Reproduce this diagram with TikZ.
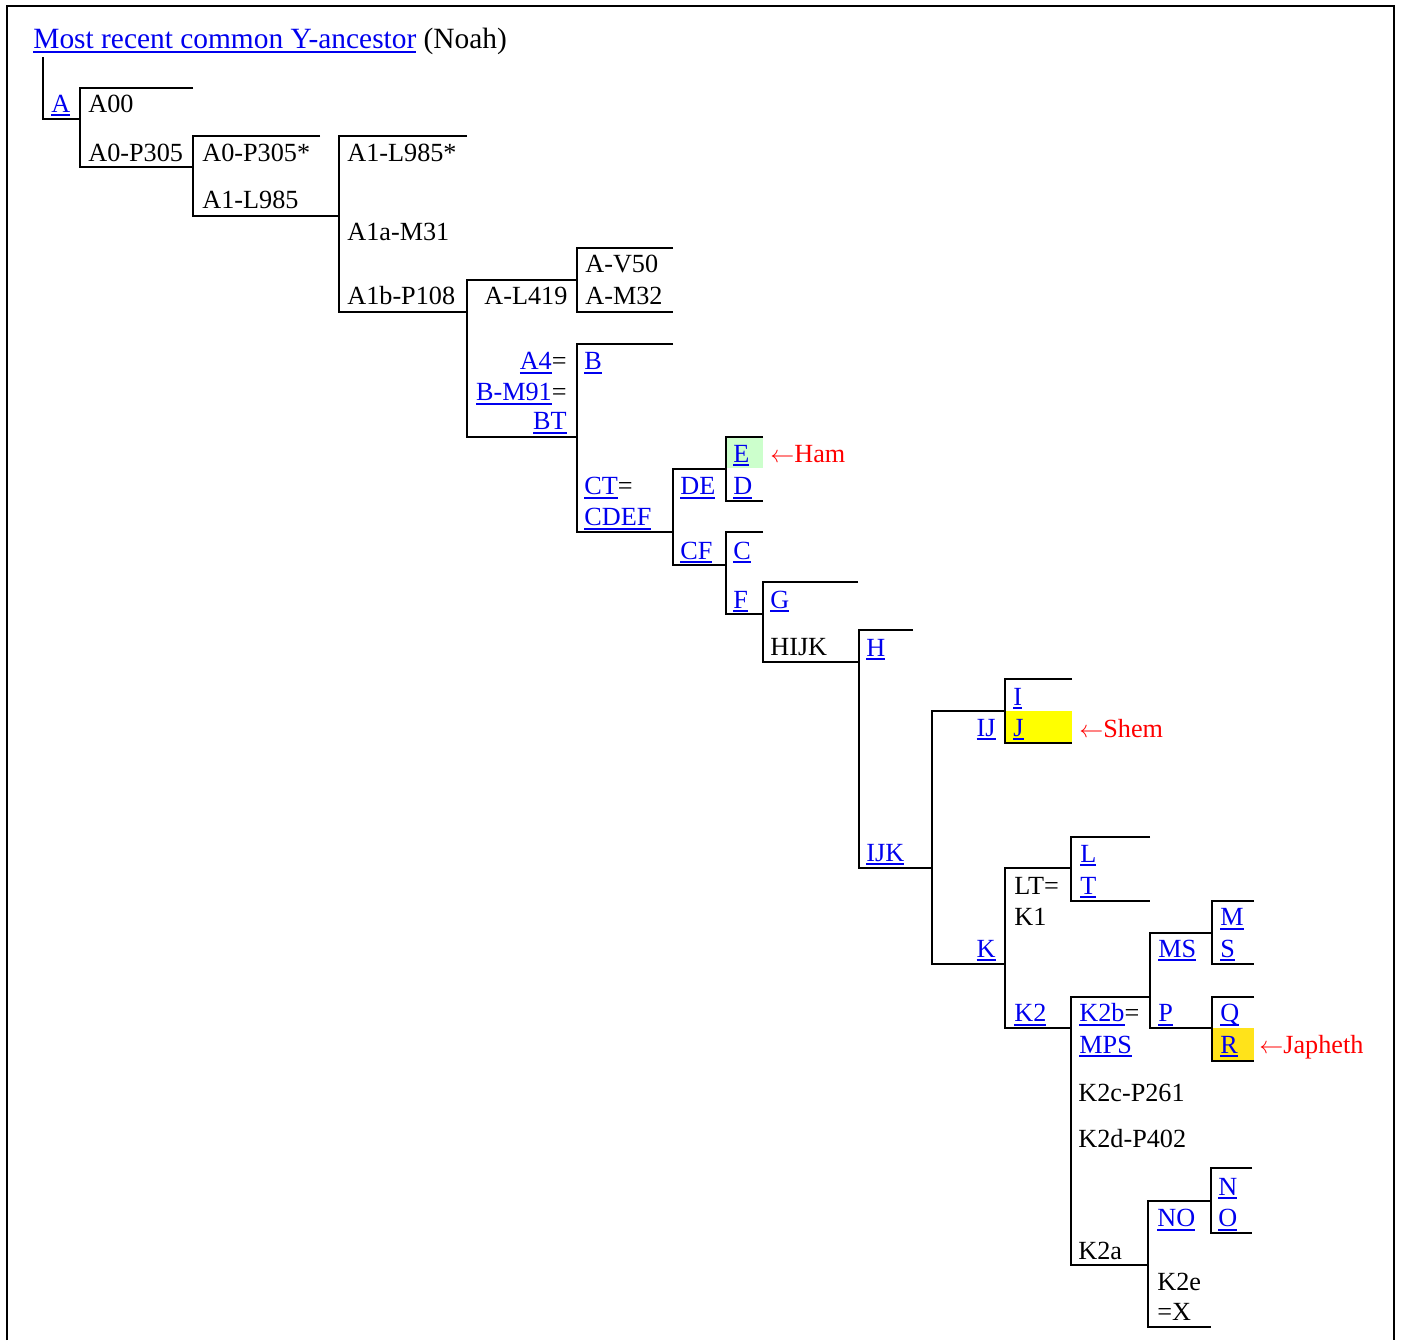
\documentclass[tikz,border=0pt]{standalone}
\usepackage{fontspec}
\setmainfont{Liberation Serif}
\usepackage{tikz}
\definecolor{linkblue}{HTML}{0000EE}
\definecolor{hamgreen}{HTML}{CCFFCC}
\definecolor{shemyellow}{HTML}{FFFF00}
\definecolor{japhgold}{HTML}{FFE31A}
\newcommand\treefont{\fontsize{13.1pt}{15.5pt}\selectfont}
\newcommand\titlefont{\fontsize{14.7pt}{18pt}\selectfont}
\newcommand\ylink[1]{{\color{linkblue}\setbox0=\hbox{#1}\rlap{\rule[-2pt]{\wd0}{1pt}}\box0}}
\def\clade(#1)(#2:#3)(#4:#5)% Syntax: (x) (top y:bottom y) (top end:bottom end)
    { \draw[clade] (#4,#2) -- (#1,#2) -- (#1,#3) -- (#5,#3); }
\tikzset{
  clade/.style={line width=1pt},
  lbl/.style={anchor=base west, inner sep=0pt, font=\treefont},
  lblr/.style={anchor=base east, inner sep=0pt, font=\treefont},
  son/.style={lbl, text=red}
}

\begin{document}
\begin{tikzpicture}[x=0.5pt,y=-0.5pt]
   \useasboundingbox (0,0) rectangle (1401,1340);
   \draw[line width=1pt] (7,1340) -- (7,6) -- (1394,6) -- (1394,1340);

   % highlighted haplogroups
   \fill[hamgreen] (726,437) rectangle (763,468);
   \fill[shemyellow] (1005,711) rectangle (1072,743);
   \fill[japhgold] (1212,1028) rectangle (1254,1061);

   \node[lbl, font=\titlefont] (mrca) at (33,48.5) {\ylink{Most recent common Y-ancestor} (Noah)};
   \draw[clade] (43,57) -- (43,119) -- (80,119);
   \node[lbl] (a) at (51,112) {\ylink{A}};

   \clade(80)(88:167)(193:193)
   \node[lbl] (a00) at (88,112) {A00};
   \node[lbl] (a0) at (88,161) {A0-P305};

   \clade(193)(136:216)(320:339)
   \node[lbl] (a0s) at (202,161) {A0-P305*};
   \node[lbl] (a1) at (202,208) {A1-L985};

   \clade(339)(136:312)(467:467)
   \node[lbl] (a1s) at (347,161) {A1-L985*};
   \node[lbl] (a1a) at (347,240) {A1a-M31};
   \node[lbl] (a1b) at (347,304) {A1b-P108};

   \clade(467)(280:437)(577:577)
   \node[lbl] (al419) at (484,304) {A-L419};
   \node[lblr] (a4) at (567,369.5) {\ylink{A4}=};
   \node[lblr] (bm91) at (567,400.5) {\ylink{B-M91}=};
   \node[lblr] (bt) at (567,429.5) {\ylink{BT}};

   \clade(577)(248:312)(673:673)
   \node[lbl] (av50) at (585,272) {A-V50};
   \node[lbl] (am32) at (585,304) {A-M32};

   \clade(577)(344:532)(673:673)
   \node[lbl] (b) at (584,369.5) {\ylink{B}};
   \node[lbl] (ct) at (584,494.5) {\ylink{CT}=};
   \node[lbl] (cdef) at (584,525.5) {\ylink{CDEF}};

   \clade(673)(469:565)(726:726)
   \node[lbl] (de) at (680,494.5) {\ylink{DE}};
   \node[lbl] (cf) at (680,559) {\ylink{CF}};

   \clade(726)(437:501)(763:763)
   \node[lbl] (e) at (733,462) {\ylink{E}};
   \node[lbl] (d) at (733,494.5) {\ylink{D}};
   \node[son] (ham) at (770,462) {$\leftarrow$Ham};

   \clade(726)(532:614)(763:763)
   \node[lbl] (c) at (733,559) {\ylink{C}};
   \node[lbl] (f) at (733,608) {\ylink{F}};

   \clade(763)(582:662)(858:858)
   \node[lbl] (g) at (770,608) {\ylink{G}};
   \node[lbl] (hijk) at (770,655) {HIJK};

   \clade(859)(630:868)(913:932)
   \node[lbl] (h) at (866,656) {\ylink{H}};
   \node[lbl] (ijk) at (866,861) {\ylink{IJK}};

   \clade(932)(711:964)(1005:1005)
   \node[lblr] (ij) at (996,736) {\ylink{IJ}};
   \node[lblr] (k) at (996,957) {\ylink{K}};

   \clade(1005)(679:743)(1072:1072)
   \node[lbl] (i) at (1013,705) {\ylink{I}};
   \node[lbl] (j) at (1013,736) {\ylink{J}};
   \node[son] (shem) at (1079,737) {$\leftarrow$Shem};

   \clade(1005)(868:1028)(1071:1071)
   \node[lbl] (lt) at (1014,894) {LT=};
   \node[lbl] (k1) at (1014,925.5) {K1};
   \node[lbl] (k2) at (1014,1021.5) {\ylink{K2}};

   \clade(1071)(837:901)(1150:1150)
   \node[lbl] (l) at (1080,862) {\ylink{L}};
   \node[lbl] (t) at (1080,894) {\ylink{T}};

   \clade(1071)(997:1265)(1150:1148)
   \node[lbl] (k2b) at (1079,1021.5) {\ylink{K2b}=};
   \node[lbl] (mps) at (1079,1053) {\ylink{MPS}};
   \node[lbl] (k2c) at (1078,1101.5) {K2c-P261};
   \node[lbl] (k2d) at (1078,1147) {K2d-P402};
   \node[lbl] (k2a) at (1078,1259) {K2a};

   \clade(1150)(933:1028)(1212:1212)
   \node[lbl] (ms) at (1158,957) {\ylink{MS}};
   \node[lbl] (p) at (1158,1021.5) {\ylink{P}};

   \clade(1212)(901:964)(1254:1254)
   \node[lbl] (m) at (1220,925.5) {\ylink{M}};
   \node[lbl] (s) at (1220,957) {\ylink{S}};

   \clade(1212)(997:1061)(1254:1254)
   \node[lbl] (q) at (1220,1021.5) {\ylink{Q}};
   \node[lbl] (r) at (1220,1053) {\ylink{R}};
   \node[son] (japheth) at (1259,1053) {$\leftarrow$Japheth};

   \clade(1148)(1201:1327)(1211:1211)
   \node[lbl] (no) at (1157,1226.5) {\ylink{NO}};
   \node[lbl] (k2e) at (1157,1290.5) {K2e};
   \node[lbl] (x) at (1157,1320.5) {=X};

   \clade(1211)(1168:1233)(1252:1252)
   \node[lbl] (n) at (1218,1195) {\ylink{N}};
   \node[lbl] (o) at (1218,1226.5) {\ylink{O}};
\end{tikzpicture}
\end{document}
